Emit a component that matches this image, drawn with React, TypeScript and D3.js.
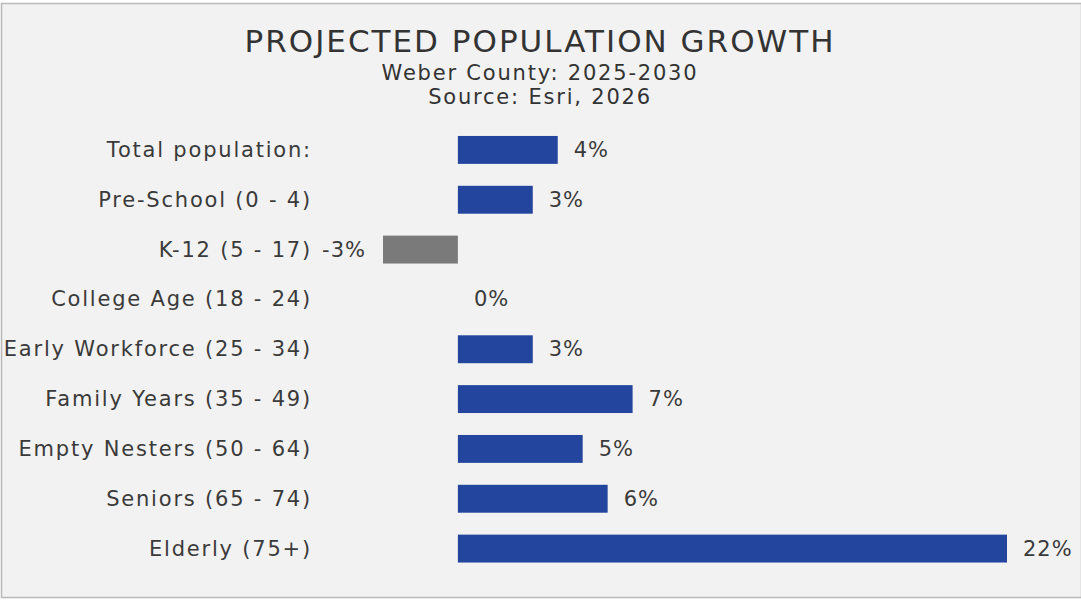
import React from "react";
import * as d3 from "d3";

const categories = [
  "Total population:",
  "Pre-School (0 - 4)",
  "K-12 (5 - 17)",
  "College Age (18 - 24)",
  "Early Workforce (25 - 34)",
  "Family Years (35 - 49)",
  "Empty Nesters (50 - 64)",
  "Seniors (65 - 74)",
  "Elderly (75+)",
];
const values = [4, 3, -3, 0, 3, 7, 5, 6, 22];
const valueLabels = ["4%", "3%", "-3%", "0%", "3%", "7%", "5%", "6%", "22%"];

const title = "PROJECTED POPULATION GROWTH";
const subtitles = ["Weber County: 2025-2030", "Source: Esri, 2026"];

const W = 1081;
const H = 601;
const FONT = "'DejaVu Sans', sans-serif";

export default function App() {
  const x = d3.scaleLinear().domain([-3, 22]).range([383, 1007]);
  const y = d3
    .scaleBand<string>()
    .domain(categories)
    .range([125, 573.5])
    .paddingInner(0.44)
    .paddingOuter(0.22);
  const bh = y.bandwidth();
  const x0 = x(0);

  return (
    <svg
      width={W}
      height={H}
      style={{ position: "absolute", left: 0, top: 0, display: "block" }}
    >
      <rect x={0} y={0} width={W} height={H} fill="#ffffff" />
      <rect x={1.5} y={3.5} width={1080} height={594} fill="#f2f2f2" stroke="#b8b8b8" strokeWidth={1.5} />
      <text
        x={540}
        y={52}
        textAnchor="middle"
        fontFamily={FONT}
        fontSize={31}
        letterSpacing={2}
        fill="#333"
      >
        {title}
      </text>
      {subtitles.map((s, i) => (
        <text
          key={s}
          x={540}
          y={80 + i * 24}
          textAnchor="middle"
          fontFamily={FONT}
          fontSize={21}
          letterSpacing={1.8}
          fill="#333"
        >
          {s}
        </text>
      ))}
      {categories.map((c, i) => {
        const v = values[i];
        const yc = (y(c) as number) + bh / 2;
        const bx = Math.min(x(v), x0);
        const bw = Math.abs(x(v) - x0);
        return (
          <g key={c}>
            <text
              x={312}
              y={yc + 7}
              textAnchor="end"
              fontFamily={FONT}
              fontSize={21}
              letterSpacing={1.8}
              fill="#3a3a3a"
            >
              {c}
            </text>
            {bw > 0 && (
              <rect
                x={bx}
                y={y(c)}
                width={bw}
                height={bh}
                fill={v < 0 ? "#7a7a7a" : "#23459e"}
              />
            )}
            <text
              x={v < 0 ? x(v) - 17 : x(v) + 16}
              y={yc + 7}
              textAnchor={v < 0 ? "end" : "start"}
              fontFamily={FONT}
              fontSize={21}
              letterSpacing={1}
              fill="#3a3a3a"
            >
              {valueLabels[i]}
            </text>
          </g>
        );
      })}
    </svg>
  );
}
